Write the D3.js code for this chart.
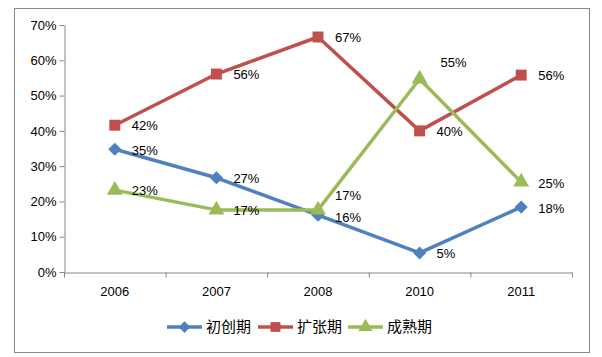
<!DOCTYPE html>
<html><head><meta charset="utf-8">
<script src="https://cdn.jsdelivr.net/npm/d3@7"></script>
<style>
body{margin:0;background:#fff;}
text{font-family:"Liberation Sans",Arial,"Noto Sans CJK SC",sans-serif;}
</style></head>
<body><svg id="c" width="602" height="357"></svg>
<script>
const categories = ["2006","2007","2008","2010","2011"];
const seriesNames = ["初创期","扩张期","成熟期"];
const startup = [34.8, 26.7, 16.1, 5.4, 18.4];
const expansion = [41.6, 56.1, 66.6, 40.0, 55.8];
const mature = [23.2, 17.6, 17.6, 54.7, 25.5];
const startupLabels = ["35%","27%","16%","5%","18%"];
const expansionLabels = ["42%","56%","67%","40%","56%"];
const matureLabels = ["23%","17%","17%","55%","25%"];
const yTicks = [0,10,20,30,40,50,60,70];

(function(){
const colors = ["#4F81BD","#C0504D","#9BBB59"];
const symbols = [d3.symbolDiamond2, d3.symbolSquare, d3.symbolTriangle];
const symSize = [110, 120, 110];
const series = [
  {name:seriesNames[0], values:startup, labels:startupLabels},
  {name:seriesNames[1], values:expansion, labels:expansionLabels},
  {name:seriesNames[2], values:mature, labels:matureLabels}
];

const svg = d3.select("#c");
svg.append("rect").attr("x",14.5).attr("y",8.5).attr("width",575).attr("height",344)
  .attr("fill","#fff").attr("stroke","#898989").attr("stroke-width",1);

const pl=64, pr=572, pt=25, pb=272;
const x = d3.scaleBand().domain(categories).range([pl,pr]);
const y = d3.scaleLinear().domain([0,70]).range([pb,pt]);

const yAxis = svg.append("g").attr("transform",`translate(${pl+0.5},0)`)
  .call(d3.axisLeft(y).tickValues(yTicks).tickFormat(d=>d+"%").tickSize(5).tickSizeOuter(0));
const xAxis = svg.append("g").attr("transform",`translate(0,${pb+0.5})`)
  .call(d3.axisBottom(x).tickSize(0).tickSizeOuter(0));
xAxis.selectAll(".bnd").data(categories.concat(["end"])).enter().append("line")
  .attr("x1",(d,i)=>pl+i*x.step()+0.5).attr("x2",(d,i)=>pl+i*x.step()+0.5)
  .attr("y1",0).attr("y2",5).attr("stroke","#868686");
[yAxis,xAxis].forEach(a=>{
  a.selectAll("path,line").attr("stroke","#868686");
  a.selectAll("text").attr("font-size",13).attr("fill","#000");
});
yAxis.selectAll("text").attr("x",-8);
xAxis.selectAll("text").attr("dy","1.55em");

const cx = c => x(c)+x.bandwidth()/2;
const line = d3.line().x((d,i)=>cx(categories[i])).y(d=>y(d));

const offs = [
  [[17,1],[17,1],[17,2],[17,1],[17,1]],
  [[17,0],[17,0],[17,0],[17,1],[17,0]],
  [[17,0],[17,1],[17,-14],[21,-17],[17,1]]
];

series.forEach((s,si)=>{
  svg.append("path").datum(s.values).attr("d",line).attr("fill","none")
    .attr("stroke",colors[si]).attr("stroke-width",3.5).attr("stroke-linejoin","round");
});
series.forEach((s,si)=>{
  svg.selectAll(null).data(s.values).enter().append("path")
    .attr("d",d3.symbol().type(symbols[si]).size(symSize[si]))
    .attr("transform",(d,i)=>`translate(${cx(categories[i])},${y(d)})`)
    .attr("fill",colors[si]);
});
series.forEach((s,si)=>{
  svg.selectAll(null).data(s.values).enter().append("text")
    .attr("x",(d,i)=>cx(categories[i])+offs[si][i][0])
    .attr("y",(d,i)=>y(d)+offs[si][i][1])
    .attr("dy","0.35em").attr("font-size",13).attr("fill","#000")
    .text((d,i)=>s.labels[i]);
});

const lg = svg.append("g");
const lx = [167, 258, 348];
series.forEach((s,si)=>{
  const g = lg.append("g").attr("transform",`translate(${lx[si]},327)`);
  g.append("line").attr("x1",0).attr("x2",35).attr("y1",0).attr("y2",0)
    .attr("stroke",colors[si]).attr("stroke-width",3.5);
  g.append("path").attr("d",d3.symbol().type(symbols[si]).size(symSize[si]*0.8))
    .attr("transform","translate(17.5,0)").attr("fill",colors[si]);
  g.append("text").attr("x",39).attr("y",0).attr("dy","0.36em")
    .attr("font-size",15).attr("font-family","Noto Sans CJK SC").attr("fill","#000").text(s.name);
});
})();
</script></body></html>
